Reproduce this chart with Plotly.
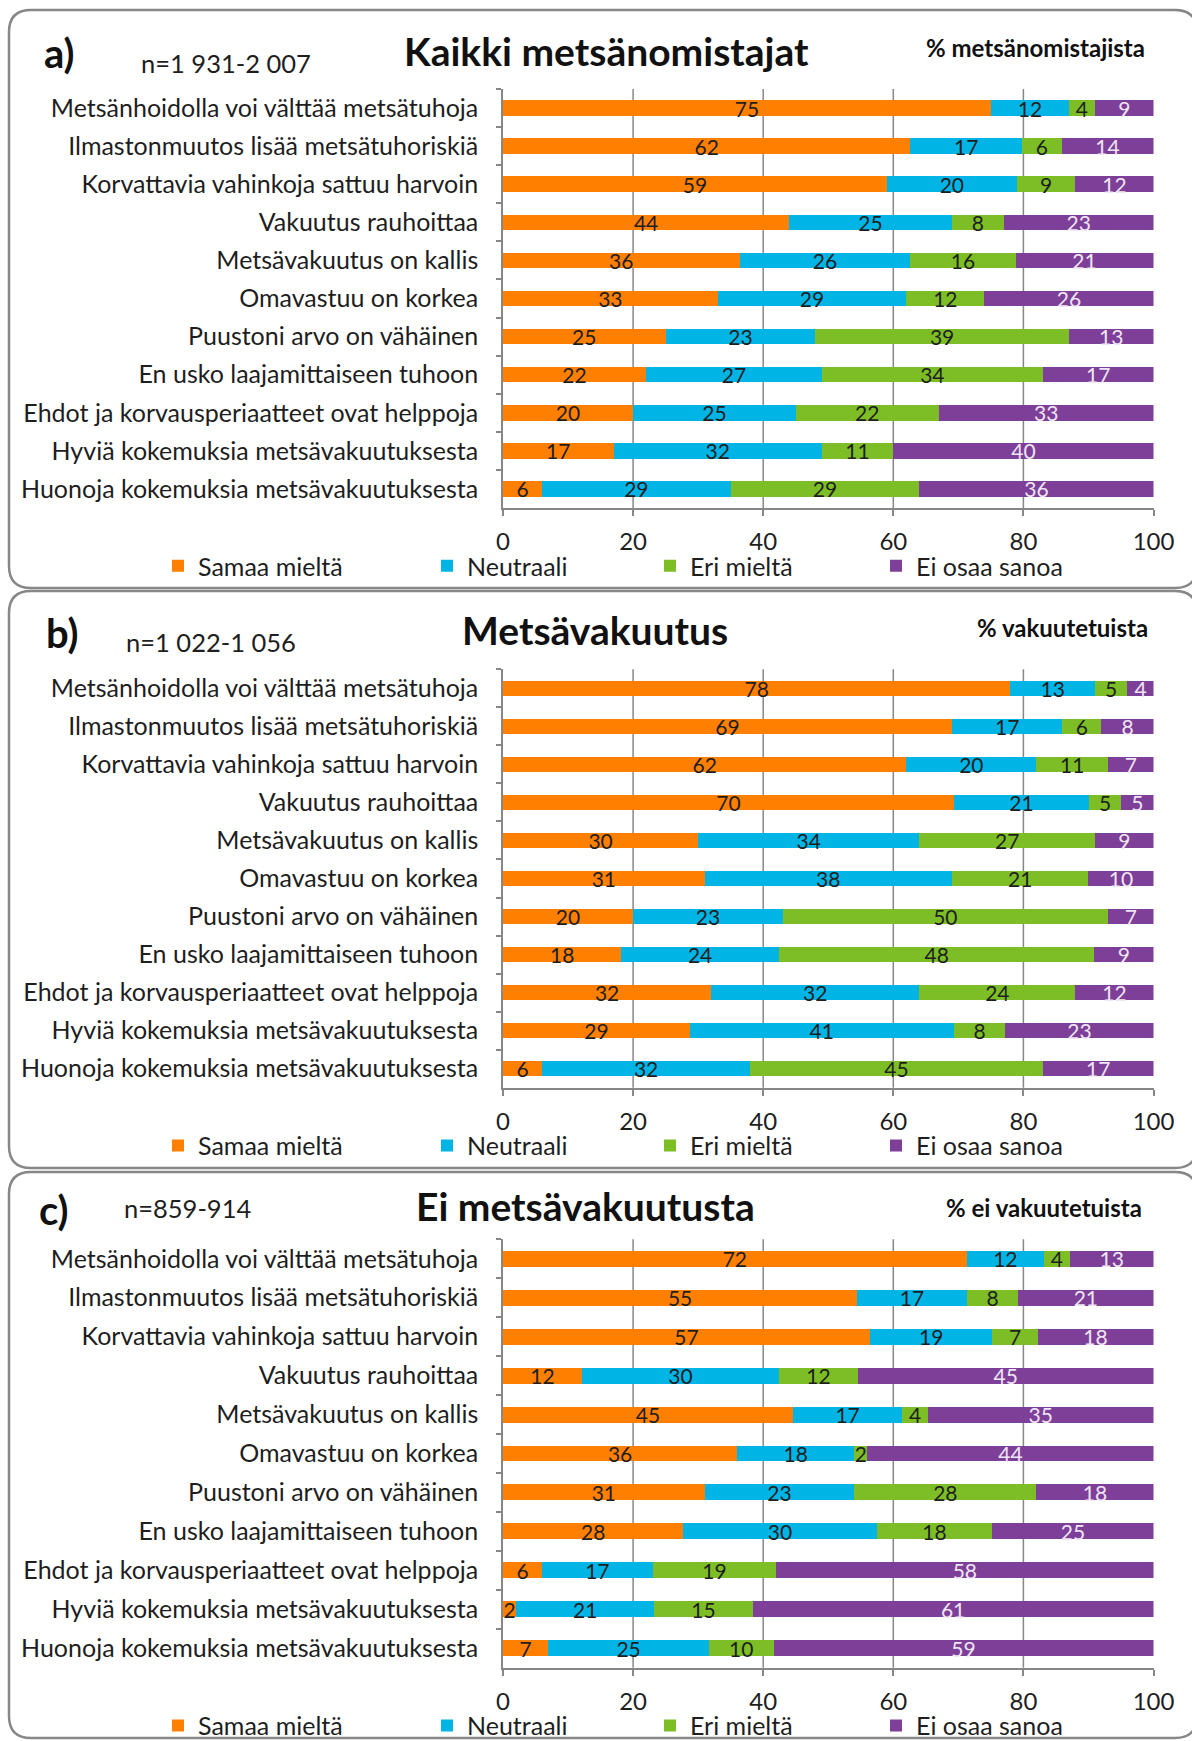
import plotly.graph_objects as go

# ---------------- data ----------------
CATEGORIES = [
    "Metsänhoidolla voi välttää metsätuhoja",
    "Ilmastonmuutos lisää metsätuhoriskiä",
    "Korvattavia vahinkoja sattuu harvoin",
    "Vakuutus rauhoittaa",
    "Metsävakuutus on kallis",
    "Omavastuu on korkea",
    "Puustoni arvo on vähäinen",
    "En usko laajamittaiseen tuhoon",
    "Ehdot ja korvausperiaatteet ovat helppoja",
    "Hyviä kokemuksia metsävakuutuksesta",
    "Huonoja kokemuksia metsävakuutuksesta",
]
SERIES = ["Samaa mieltä", "Neutraali", "Eri mieltä", "Ei osaa sanoa"]

# a) Kaikki metsänomistajat
A_SAMAA = [75, 62, 59, 44, 36, 33, 25, 22, 20, 17, 6]
A_NEUTRAALI = [12, 17, 20, 25, 26, 29, 23, 27, 25, 32, 29]
A_ERI = [4, 6, 9, 8, 16, 12, 39, 34, 22, 11, 29]
A_EOS = [9, 14, 12, 23, 21, 26, 13, 17, 33, 40, 36]

# b) Metsävakuutus
B_SAMAA = [78, 69, 62, 70, 30, 31, 20, 18, 32, 29, 6]
B_NEUTRAALI = [13, 17, 20, 21, 34, 38, 23, 24, 32, 41, 32]
B_ERI = [5, 6, 11, 5, 27, 21, 50, 48, 24, 8, 45]
B_EOS = [4, 8, 7, 5, 9, 10, 7, 9, 12, 23, 17]

# c) Ei metsävakuutusta
C_SAMAA = [72, 55, 57, 12, 45, 36, 31, 28, 6, 2, 7]
C_NEUTRAALI = [12, 17, 19, 30, 17, 18, 23, 30, 17, 21, 25]
C_ERI = [4, 8, 7, 12, 4, 2, 28, 18, 19, 15, 10]
C_EOS = [13, 21, 18, 45, 35, 44, 18, 25, 58, 61, 59]

PANEL_LETTERS = ["a)", "b)", "c)"]
PANEL_N = ["n=1 931-2 007", "n=1 022-1 056", "n=859-914"]
PANEL_TITLES = ["Kaikki metsänomistajat", "Metsävakuutus", "Ei metsävakuutusta"]
PANEL_UNITS = ["% metsänomistajista", "% vakuutetuista", "% ei vakuutetuista"]
PANEL_DATA = [
    [A_SAMAA, A_NEUTRAALI, A_ERI, A_EOS],
    [B_SAMAA, B_NEUTRAALI, B_ERI, B_EOS],
    [C_SAMAA, C_NEUTRAALI, C_ERI, C_EOS],
]
X_TICKS = [0, 20, 40, 60, 80, 100]
GRID_VALUES = [20, 40, 60, 80]

# ---------------- style / layout ----------------
W, H = 1192, 1741
FONT = "Lato, 'Open Sans', sans-serif"
TXT = "#1e1e1e"
GRAY = "#878787"
COLORS = ["#FF8000", "#00B4E6", "#7DBE26", "#7E3F98"]
LABEL_COLORS = [TXT, TXT, TXT, "#EFE6F5"]

PLOT_X = (503, 1153.5)
PLOT_Y = [(89, 508), (669.3, 1087.7), (1239.3, 1667.7)]
BOX_Y = [(10, 588), (591, 1168), (1172, 1738)]
LETTER_POS = [(59, 53), (62, 633), (54, 1210)]
N_POS = [(139, 63), (124, 642), (122, 1208)]
TITLE_POS = [(606, 51), (595, 630), (585, 1206)]
UNIT_POS = [(1147, 47), (1150, 627), (1144, 1207)]
LEGEND_X = [172, 441, 664, 890]
LEGEND_DY = 58  # legend centre below plot bottom


def px(x):
    return x / W


def py(y):
    return 1 - y / H


fig = go.Figure()
shapes = []
annotations = []
layout = {}

for p in range(3):
    s = "" if p == 0 else str(p + 1)
    top, bot = PLOT_Y[p]
    for k, (name, vals) in enumerate(zip(SERIES, PANEL_DATA[p])):
        leg_id = "legend" + ("" if p * 4 + k == 0 else str(p * 4 + k + 1))
        fig.add_trace(go.Bar(
            y=CATEGORIES, x=vals, orientation="h", name=name,
            xaxis="x" + s, yaxis="y" + s,
            marker=dict(color=COLORS[k], line=dict(width=0)),
            text=vals, textposition="inside", insidetextanchor="middle",
            textangle=0, constraintext="none", cliponaxis=False,
            textfont=dict(family=FONT, size=21, color=LABEL_COLORS[k]),
            legend=leg_id, showlegend=True,
        ))
        layout[leg_id] = dict(
            x=px(LEGEND_X[k] - 14), xanchor="left",
            y=py(bot + LEGEND_DY), yanchor="middle",
            orientation="h", bgcolor="rgba(0,0,0,0)", borderwidth=0,
            font=dict(family=FONT, size=25, color=TXT),
            itemclick=False, itemdoubleclick=False,
        )

    layout["xaxis" + s] = dict(
        domain=[px(PLOT_X[0]), px(PLOT_X[1])], anchor="y" + s,
        range=[0, 100.0005], tickvals=X_TICKS, ticks="outside", ticklen=6,
        tickcolor=GRAY, tickwidth=1.5, showline=True, linecolor=GRAY,
        linewidth=2, showgrid=False, zeroline=False,
        tickfont=dict(family=FONT, size=24, color=TXT), ticklabelstandoff=5,
        fixedrange=True,
    )
    layout["yaxis" + s] = dict(
        domain=[py(bot), py(top)], anchor="x" + s, type="category",
        autorange="reversed", tickson="boundaries", ticks="outside",
        ticklen=5, tickcolor=GRAY, tickwidth=1.5, showline=True,
        linecolor=GRAY, linewidth=1.5, showgrid=False,
        tickfont=dict(family=FONT, size=25, color=TXT),
        ticklabelstandoff=18, fixedrange=True,
    )
    for g in GRID_VALUES:
        shapes.append(dict(
            type="line", xref="x" + s, yref="y" + s + " domain",
            x0=g, x1=g, y0=0, y1=1, layer="below",
            line=dict(color=GRAY, width=1.5),
        ))

    # rounded panel box
    x0, x1 = 9, 1197
    y0, y1 = BOX_Y[p]
    r = 22
    path = (
        f"M {px(x0)},{py(y0 + r)} Q {px(x0)},{py(y0)} {px(x0 + r)},{py(y0)} "
        f"L {px(x1 - r)},{py(y0)} Q {px(x1)},{py(y0)} {px(x1)},{py(y0 + r)} "
        f"L {px(x1)},{py(y1 - r)} Q {px(x1)},{py(y1)} {px(x1 - r)},{py(y1)} "
        f"L {px(x0 + r)},{py(y1)} Q {px(x0)},{py(y1)} {px(x0)},{py(y1 - r)} Z"
    )
    shapes.append(dict(type="path", xref="paper", yref="paper", path=path,
                       line=dict(color=GRAY, width=2.5), layer="below"))

    lx, ly = LETTER_POS[p]
    annotations.append(dict(text="<b>" + PANEL_LETTERS[p] + "</b>", x=px(lx), y=py(ly),
                            xref="paper", yref="paper", xanchor="center", yanchor="middle",
                            showarrow=False, font=dict(family=FONT, size=40, color="#111")))
    nx, ny = N_POS[p]
    annotations.append(dict(text=PANEL_N[p], x=px(nx), y=py(ny),
                            xref="paper", yref="paper", xanchor="left", yanchor="middle",
                            showarrow=False, font=dict(family=FONT, size=25.5, color=TXT)))
    tx, ty = TITLE_POS[p]
    annotations.append(dict(text="<b>" + PANEL_TITLES[p] + "</b>", x=px(tx), y=py(ty),
                            xref="paper", yref="paper", xanchor="center", yanchor="middle",
                            showarrow=False, font=dict(family=FONT, size=39, color="#111")))
    ux, uy = UNIT_POS[p]
    annotations.append(dict(text="<b>" + PANEL_UNITS[p] + "</b>", x=px(ux), y=py(uy),
                            xref="paper", yref="paper", xanchor="right", yanchor="middle",
                            showarrow=False, font=dict(family=FONT, size=24, color="#111")))

fig.update_layout(
    width=W, height=H, autosize=False,
    margin=dict(l=0, r=0, t=0, b=0, pad=0, autoexpand=False),
    paper_bgcolor="white", plot_bgcolor="rgba(0,0,0,0)",
    barmode="stack", barnorm="percent", bargap=0.59,
    font=dict(family=FONT, color=TXT),
    shapes=shapes, annotations=annotations,
    hovermode=False,
    **layout,
)

fig.write_html(
    "out.html",
    config={"displayModeBar": False},
    post_script="document.body.style.margin='0';document.body.style.overflow='hidden';",
)
